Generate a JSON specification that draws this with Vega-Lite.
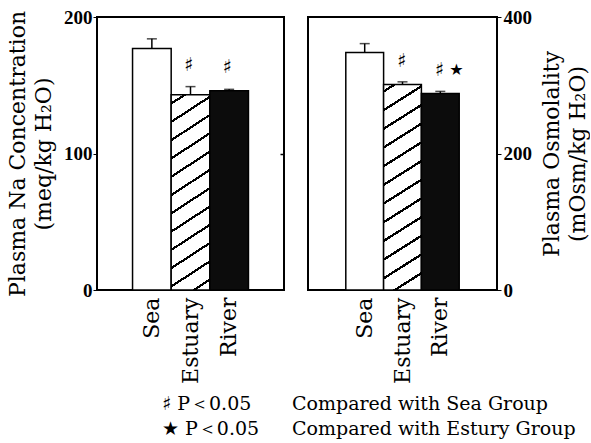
{
  "$schema": "https://vega.github.io/schema/vega-lite/v6.json",
  "padding": {"left": 5, "top": 6, "right": 0, "bottom": 0},
  "background": "white",
  "spacing": 5,
  "config": {
    "view": {"stroke": "black", "strokeWidth": 2},
    "axis": {"grid": false, "domain": false, "labelColor": "black", "titleColor": "black", "tickColor": "black"}
  },
  "datasets": {
    "na": [
      {"group": "Sea", "mean": 177, "top": 184, "hash": "", "star": ""},
      {"group": "Estuary", "mean": 143, "top": 149, "hash": "♯", "star": ""},
      {"group": "River", "mean": 146, "top": 147, "hash": "♯", "star": ""}
    ],
    "osm": [
      {"group": "Sea", "mean": 348, "top": 361, "hash": "", "star": ""},
      {"group": "Estuary", "mean": 301, "top": 305, "hash": "♯", "star": ""},
      {"group": "River", "mean": 288, "top": 291, "hash": "♯", "star": "★"}
    ]
  },
  "hconcat": [
    {
      "width": 187,
      "height": 273,
      "data": {"name": "na"},
      "title": {"text": ["♯ P＜0.05", "★ P＜0.05"], "orient": "bottom", "anchor": "start", "frame": "group", "dx": 65, "offset": 12, "font": "DejaVu Serif", "fontSize": 19, "fontWeight": "normal", "lineHeight": 25, "color": "black"},
      "resolve": {"axis": {"y": "independent"}},
      "encoding": {
        "x": {"field": "group", "type": "nominal", "sort": ["Sea", "Estuary", "River"], "scale": {"paddingInner": 0, "paddingOuter": 0.92},
          "axis": {"title": null, "ticks": false, "labelAngle": -90, "labelFont": "DejaVu Serif", "labelFontSize": 22, "labelPadding": 7}}
      },
      "layer": [
        {
          "mark": {"type": "bar", "stroke": "black", "strokeWidth": 1.5},
          "encoding": {
            "y": {"field": "mean", "type": "quantitative", "scale": {"domain": [0, 200]},
              "axis": {"values": [0, 100, 200], "tickSize": 4, "labelPadding": 1, "labelFont": "Liberation Serif", "labelFontWeight": "bold", "labelFontSize": 19,
                "title": ["Plasma Na Concentration", "\u00a0\u00a0\u00a0\u00a0\u00a0\u00a0\u00a0\u00a0\u00a0\u00a0\u00a0(meq/kg H₂O)"], "titleFont": "DejaVu Serif", "titleFontSize": 22, "titleFontWeight": "normal", "titleLineHeight": 26, "titlePadding": 8}},
            "fill": {"condition": [
              {"test": "datum.group === 'Estuary'", "value": {"gradient": "linear", "x1": 0, "y1": 0, "x2": 0.1433, "y2": 1.1105, "stops": [
                {"offset": 0, "color": "white"},
                {"offset": 0.034, "color": "white"}, {"offset": 0.034, "color": "black"}, {"offset": 0.046, "color": "black"}, {"offset": 0.046, "color": "white"},
                {"offset": 0.117, "color": "white"}, {"offset": 0.117, "color": "black"}, {"offset": 0.129, "color": "black"}, {"offset": 0.129, "color": "white"},
                {"offset": 0.200, "color": "white"}, {"offset": 0.200, "color": "black"}, {"offset": 0.212, "color": "black"}, {"offset": 0.212, "color": "white"},
                {"offset": 0.283, "color": "white"}, {"offset": 0.283, "color": "black"}, {"offset": 0.295, "color": "black"}, {"offset": 0.295, "color": "white"},
                {"offset": 0.366, "color": "white"}, {"offset": 0.366, "color": "black"}, {"offset": 0.378, "color": "black"}, {"offset": 0.378, "color": "white"},
                {"offset": 0.449, "color": "white"}, {"offset": 0.449, "color": "black"}, {"offset": 0.461, "color": "black"}, {"offset": 0.461, "color": "white"},
                {"offset": 0.532, "color": "white"}, {"offset": 0.532, "color": "black"}, {"offset": 0.544, "color": "black"}, {"offset": 0.544, "color": "white"},
                {"offset": 0.615, "color": "white"}, {"offset": 0.615, "color": "black"}, {"offset": 0.627, "color": "black"}, {"offset": 0.627, "color": "white"},
                {"offset": 0.698, "color": "white"}, {"offset": 0.698, "color": "black"}, {"offset": 0.710, "color": "black"}, {"offset": 0.710, "color": "white"},
                {"offset": 0.781, "color": "white"}, {"offset": 0.781, "color": "black"}, {"offset": 0.793, "color": "black"}, {"offset": 0.793, "color": "white"},
                {"offset": 0.864, "color": "white"}, {"offset": 0.864, "color": "black"}, {"offset": 0.876, "color": "black"}, {"offset": 0.876, "color": "white"},
                {"offset": 0.947, "color": "white"}, {"offset": 0.947, "color": "black"}, {"offset": 0.959, "color": "black"}, {"offset": 0.959, "color": "white"},
                {"offset": 1, "color": "white"}
              ]}},
              {"test": "datum.group === 'River'", "value": "#0c0c0c"}
            ], "value": "white"}
          }
        },
        {
          "mark": {"type": "rule", "strokeWidth": 1.5, "color": "black"},
          "encoding": {"y": {"field": "mean", "type": "quantitative", "axis": null}, "y2": {"field": "top"}}
        },
        {
          "mark": {"type": "tick", "size": 10, "thickness": 1.5, "color": "black"},
          "encoding": {"y": {"field": "top", "type": "quantitative",
            "axis": {"orient": "right", "values": [100], "labels": false, "title": null, "tickSize": 4, "offset": -4, "tickWidth": 1.5}}}
        },
        {
          "mark": {"type": "text", "dy": -22, "dx": -2, "fontSize": 19, "fontWeight": "bold", "font": "DejaVu Sans", "color": "black"},
          "encoding": {"y": {"field": "top", "type": "quantitative", "axis": null}, "text": {"field": "hash"}}
        }
      ]
    },
    {
      "width": 189,
      "height": 273,
      "data": {"name": "osm"},
      "title": {"text": ["Compared with Sea Group", "Compared with Estury Group"], "orient": "bottom", "anchor": "start", "frame": "group", "dx": -16, "offset": 12, "font": "DejaVu Serif", "fontSize": 19, "fontWeight": "normal", "lineHeight": 25, "color": "black"},
      "encoding": {
        "x": {"field": "group", "type": "nominal", "sort": ["Sea", "Estuary", "River"], "scale": {"paddingInner": 0, "paddingOuter": 1.07},
          "axis": {"title": null, "ticks": false, "labelAngle": -90, "labelFont": "DejaVu Serif", "labelFontSize": 22, "labelPadding": 7}}
      },
      "layer": [
        {
          "mark": {"type": "bar", "stroke": "black", "strokeWidth": 1.5},
          "encoding": {
            "y": {"field": "mean", "type": "quantitative", "scale": {"domain": [0, 400]},
              "axis": {"orient": "right", "values": [0, 200, 400], "tickSize": 4, "labelPadding": 2, "labelFont": "Liberation Serif", "labelFontWeight": "bold", "labelFontSize": 19,
                "title": ["Plasma Osmolality", "\u00a0\u00a0\u00a0\u00a0\u00a0\u00a0\u00a0\u00a0\u00a0\u00a0\u00a0\u00a0\u00a0(mOsm/kg H₂O)"], "titleAngle": 270, "titleFont": "DejaVu Serif", "titleFontSize": 22, "titleFontWeight": "normal", "titleLineHeight": 26, "titlePadding": 6}},
            "fill": {"condition": [
              {"test": "datum.group === 'Estuary'", "value": {"gradient": "linear", "x1": 0, "y1": 0, "x2": 0.1281, "y2": 1.1014, "stops": [
                {"offset": 0, "color": "white"},
                {"offset": 0.024, "color": "white"}, {"offset": 0.024, "color": "black"}, {"offset": 0.036, "color": "black"}, {"offset": 0.036, "color": "white"},
                {"offset": 0.1055, "color": "white"}, {"offset": 0.1055, "color": "black"}, {"offset": 0.1175, "color": "black"}, {"offset": 0.1175, "color": "white"},
                {"offset": 0.187, "color": "white"}, {"offset": 0.187, "color": "black"}, {"offset": 0.199, "color": "black"}, {"offset": 0.199, "color": "white"},
                {"offset": 0.2685, "color": "white"}, {"offset": 0.2685, "color": "black"}, {"offset": 0.2805, "color": "black"}, {"offset": 0.2805, "color": "white"},
                {"offset": 0.350, "color": "white"}, {"offset": 0.350, "color": "black"}, {"offset": 0.362, "color": "black"}, {"offset": 0.362, "color": "white"},
                {"offset": 0.4315, "color": "white"}, {"offset": 0.4315, "color": "black"}, {"offset": 0.4435, "color": "black"}, {"offset": 0.4435, "color": "white"},
                {"offset": 0.513, "color": "white"}, {"offset": 0.513, "color": "black"}, {"offset": 0.525, "color": "black"}, {"offset": 0.525, "color": "white"},
                {"offset": 0.5945, "color": "white"}, {"offset": 0.5945, "color": "black"}, {"offset": 0.6065, "color": "black"}, {"offset": 0.6065, "color": "white"},
                {"offset": 0.676, "color": "white"}, {"offset": 0.676, "color": "black"}, {"offset": 0.688, "color": "black"}, {"offset": 0.688, "color": "white"},
                {"offset": 0.7575, "color": "white"}, {"offset": 0.7575, "color": "black"}, {"offset": 0.7695, "color": "black"}, {"offset": 0.7695, "color": "white"},
                {"offset": 0.839, "color": "white"}, {"offset": 0.839, "color": "black"}, {"offset": 0.851, "color": "black"}, {"offset": 0.851, "color": "white"},
                {"offset": 0.9205, "color": "white"}, {"offset": 0.9205, "color": "black"}, {"offset": 0.9325, "color": "black"}, {"offset": 0.9325, "color": "white"},
                {"offset": 1, "color": "white"}
              ]}},
              {"test": "datum.group === 'River'", "value": "#0c0c0c"}
            ], "value": "white"}
          }
        },
        {
          "mark": {"type": "rule", "strokeWidth": 1.5, "color": "black"},
          "encoding": {"y": {"field": "mean", "type": "quantitative"}, "y2": {"field": "top"}}
        },
        {
          "mark": {"type": "tick", "size": 10, "thickness": 1.5, "color": "black"},
          "encoding": {"y": {"field": "top", "type": "quantitative"}}
        },
        {
          "mark": {"type": "text", "dy": -21, "dx": -1, "fontSize": 19, "fontWeight": "bold", "font": "DejaVu Sans", "color": "black"},
          "encoding": {"y": {"field": "top", "type": "quantitative"}, "text": {"field": "hash"}}
        },
        {
          "mark": {"type": "text", "dy": -21, "dx": 16, "fontSize": 16, "font": "DejaVu Sans", "color": "black"},
          "encoding": {"y": {"field": "top", "type": "quantitative"}, "text": {"field": "star"}}
        }
      ]
    }
  ]
}
